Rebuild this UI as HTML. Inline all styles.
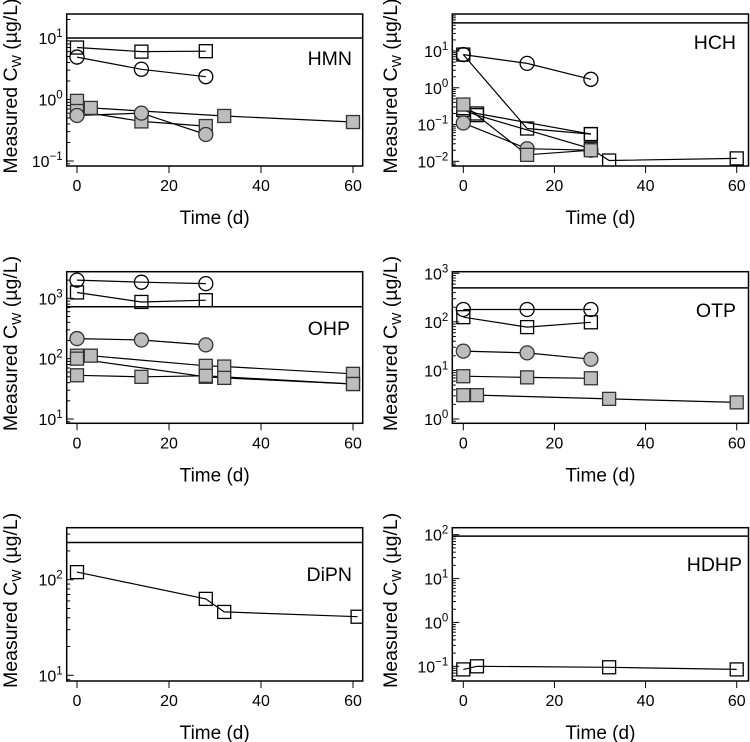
<!DOCTYPE html>
<html><head><meta charset="utf-8">
<style>
html,body{margin:0;padding:0;background:#fff;}
svg{display:block;font-family:"Liberation Sans",Arial,sans-serif;}
</style></head>
<body>
<svg id="chart" width="750" height="742" viewBox="0 0 750 742" xmlns="http://www.w3.org/2000/svg"></svg>
<script>
// ---- data (days, measured Cw in µg/L) ----
const panelNames = ["HMN","HCH","OHP","OTP","DiPN","HDHP"];
const thresholds = [10, 58, 725, 500, 245, 93];

// HMN
const hmnOpenSqX = [0,14,28];        const hmnOpenSqY = [7.0,6.0,6.1];
const hmnOpenCiX = [0,14,28];        const hmnOpenCiY = [4.9,3.1,2.35];
const hmnGrayCiX = [0,14,28];        const hmnGrayCiY = [0.55,0.6,0.27];
const hmnGraySqAX = [0,14,28];       const hmnGraySqAY = [0.65,0.44,0.37];
const hmnGraySqBX = [0,3,32,60];     const hmnGraySqBY = [0.95,0.73,0.54,0.43];
// HCH
const hchOpenCiX = [0,14,28];        const hchOpenCiY = [8,4.6,1.7];
const hchOpenSqAX = [0,14,28];       const hchOpenSqAY = [8,0.078,0.055];
const hchOpenSqBX = [0,3,28];        const hchOpenSqBY = [0.28,0.2,0.055];
const hchOpenSqCX = [0,3,28,32,60];  const hchOpenSqCY = [0.25,0.18,0.022,0.0105,0.012];
const hchGrayCiX = [0,14,28];        const hchGrayCiY = [0.11,0.022,0.02];
const hchGraySqX = [0,14,28];        const hchGraySqY = [0.35,0.015,0.02];
// OHP
const ohpOpenCiX = [0,14,28];        const ohpOpenCiY = [2000,1850,1750];
const ohpOpenSqX = [0,14,28];        const ohpOpenSqY = [1250,870,930];
const ohpGrayCiX = [0,14,28];        const ohpGrayCiY = [215,204,169];
const ohpGraySqAX = [0,3,28,32,60];  const ohpGraySqAY = [112,112,76,74,56];
const ohpGraySqBX = [0,28,32,60];    const ohpGraySqBY = [100,50,48,38];
const ohpGraySqCX = [0,14,28,60];    const ohpGraySqCY = [53,50,52,38];
// OTP
const otpOpenCiX = [0,14,28];        const otpOpenCiY = [180,180,180];
const otpOpenSqX = [0,14,28];        const otpOpenSqY = [125,78,98];
const otpGrayCiX = [0,14,28];        const otpGrayCiY = [25,23,17];
const otpGraySqAX = [0,14,28];       const otpGraySqAY = [7.6,7.2,6.9];
const otpGraySqBX = [0,3,32,60];     const otpGraySqBY = [3.1,3.1,2.6,2.2];
// DiPN
const dipnOpenSqX = [0,28,32,61];    const dipnOpenSqY = [120,63,46,41];
// HDHP
const hdhpOpenSqX = [0,3,32,60];     const hdhpOpenSqY = [0.085,0.1,0.095,0.085];

const seriesByPanel = [
 [[hmnOpenSqX,hmnOpenSqY,"sq",false],[hmnOpenCiX,hmnOpenCiY,"ci",false],[hmnGraySqBX,hmnGraySqBY,"sq",true],[hmnGraySqAX,hmnGraySqAY,"sq",true],[hmnGrayCiX,hmnGrayCiY,"ci",true]],
 [[hchOpenCiX,hchOpenCiY,"ci",false],[hchOpenSqAX,hchOpenSqAY,"sq",false],[hchOpenSqBX,hchOpenSqBY,"sq",false],[hchOpenSqCX,hchOpenSqCY,"sq",false],[hchGrayCiX,hchGrayCiY,"ci",true],[hchGraySqX,hchGraySqY,"sq",true]],
 [[ohpOpenCiX,ohpOpenCiY,"ci",false],[ohpOpenSqX,ohpOpenSqY,"sq",false],[ohpGrayCiX,ohpGrayCiY,"ci",true],[ohpGraySqAX,ohpGraySqAY,"sq",true],[ohpGraySqBX,ohpGraySqBY,"sq",true],[ohpGraySqCX,ohpGraySqCY,"sq",true]],
 [[otpOpenCiX,otpOpenCiY,"ci",false],[otpOpenSqX,otpOpenSqY,"sq",false],[otpGrayCiX,otpGrayCiY,"ci",true],[otpGraySqAX,otpGraySqAY,"sq",true],[otpGraySqBX,otpGraySqBY,"sq",true]],
 [[dipnOpenSqX,dipnOpenSqY,"sq",false]],
 [[hdhpOpenSqX,hdhpOpenSqY,"sq",false]]
];
const xTicks = [0,20,40,60];

// ---- layout ----
const layouts = [
 {l:66.7,r:362.7,t:14,b:166,x0:77,xs:4.6,refPx:38,refLog:1,ppd:61.5,lab:[352,58],yl:10},
 {l:452.3,r:748.5,t:14,b:166,x0:463.3,xs:4.557,refPx:51,refLog:1,ppd:36.77,lab:[736,42],yl:390,skipTop:true},
 {l:66.7,r:362.7,t:271.7,b:423.3,x0:77,xs:4.6,refPx:298.3,refLog:3,ppd:60.35,lab:[350,328],yl:10},
 {l:452.3,r:748.5,t:271.7,b:423.3,x0:463.3,xs:4.557,refPx:273.3,refLog:3,ppd:48.57,lab:[736,310],yl:390},
 {l:66.7,r:362.7,t:527.7,b:681,x0:77,xs:4.6,refPx:579.7,refLog:2,ppd:95.6,lab:[352,574],yl:10},
 {l:452.3,r:748.5,t:527.7,b:681,x0:463.3,xs:4.557,refPx:534.7,refLog:2,ppd:43.87,lab:[742,564],yl:390}
];

const NS="http://www.w3.org/2000/svg";
const svg=document.getElementById("chart");
function mk(tag,attrs,parent){const e=document.createElementNS(NS,tag);for(const k in attrs)e.setAttribute(k,attrs[k]);(parent||svg).appendChild(e);return e;}

layouts.forEach((L,i)=>{
  const g=mk("g",{});
  
  
  const X=d=>L.x0+d*L.xs;
  const Y=v=>L.refPx-(Math.log10(v)-L.refLog)*L.ppd;
  const logTop=L.refLog+(L.refPx-L.t)/L.ppd, logBot=L.refLog-(L.b-L.refPx)/L.ppd;
  // y ticks
  for(let d=Math.floor(logBot);d<=Math.ceil(logTop);d++){
    for(let m=1;m<10;m++){
      const lv=d+Math.log10(m);
      if(lv<logBot-1e-6||lv>logTop+1e-6)continue;
      if(L.skipTop && lv>logTop-0.02)continue;
      const y=Y(Math.pow(10,lv));
      const tk=mk("line",{x1:L.l,x2:L.l+(m===1?7:3.5),y1:y,y2:y,stroke:"#000","stroke-width":1},g);
      
      
      if(m===1){
        const t=mk("text",{x:L.l-4,y:y+6,"text-anchor":"end","font-size":16},g);
        
        
        t.innerHTML='10<tspan dy="-7" font-size="11.5">'+(d<0?'\u2212'+(-d):d)+'</tspan>';
      }
    }
  }
  // x ticks
  xTicks.forEach(v=>{
    const x=X(v);
    const tk=mk("line",{x1:x,x2:x,y1:L.b,y2:L.b+7,stroke:"#000","stroke-width":1},g);
    
    
    const t=mk("text",{x:x,y:L.b+25,"text-anchor":"middle","font-size":16},g);
    
    
    t.textContent=v;
  });
  const xt=mk("text",{x:(L.l+L.r)/2,y:L.b+58,"text-anchor":"middle","font-size":19},g);
  
  
  xt.textContent="Time (d)";
  const cy=(L.t+L.b)/2-4;
  const yt=mk("text",{x:0,y:0,"text-anchor":"middle","font-size":19.5,transform:`translate(${L.yl+7},${cy}) rotate(-90)`},g);
  
  
  yt.innerHTML='Measured C<tspan font-size="13" dy="4">W</tspan><tspan dy="-4"> (\u00b5g/L)</tspan>';
  // threshold line
  const th=mk("line",{x1:L.l,x2:L.r,y1:Y(thresholds[i]),y2:Y(thresholds[i]),stroke:"#000","stroke-width":1.5},g);
  
  
  // series
  const clipId="clip"+i;
  const cp=mk("clipPath",{id:clipId},g);
  mk("rect",{x:L.l,y:L.t,width:L.r-L.l,height:L.b-L.t},cp);
  const sg=mk("g",{"clip-path":`url(#${clipId})`},g);
  seriesByPanel[i].forEach((s,si)=>{
    const [xs,ys,shape,filled]=s;
    const pts=xs.map((x,k)=>X(x).toFixed(1)+","+Y(ys[k]).toFixed(1)).join(" ");
    const pl=mk("polyline",{points:pts,fill:"none",stroke:"#000","stroke-width":1.2},sg);
    
    
  });
  seriesByPanel[i].forEach((s,si)=>{
    const [xs,ys,shape,filled]=s;
    xs.forEach((x,k)=>{
      const px=X(x),py=Y(ys[k]);
      const fill=filled?"#bdbdbd":"none";
      let m;
      if(shape==="sq") m=mk("rect",{x:px-6.5,y:py-6.5,width:13,height:13,fill:fill,stroke:filled?"#333":"#000","stroke-width":1.3},sg);
      else m=mk("circle",{cx:px,cy:py,r:7,fill:fill,stroke:filled?"#333":"#000","stroke-width":1.3},sg);
      
      
    });
  });
  const box=mk("rect",{x:L.l,y:L.t,width:L.r-L.l,height:L.b-L.t,fill:"none",stroke:"#000","stroke-width":1.5},g);
  
  
  const lab=mk("text",{x:L.lab[0],y:L.lab[1]+7,"text-anchor":"end","font-size":19.5},g);
  
  
  lab.textContent=panelNames[i];
});
</script>
</body></html>
